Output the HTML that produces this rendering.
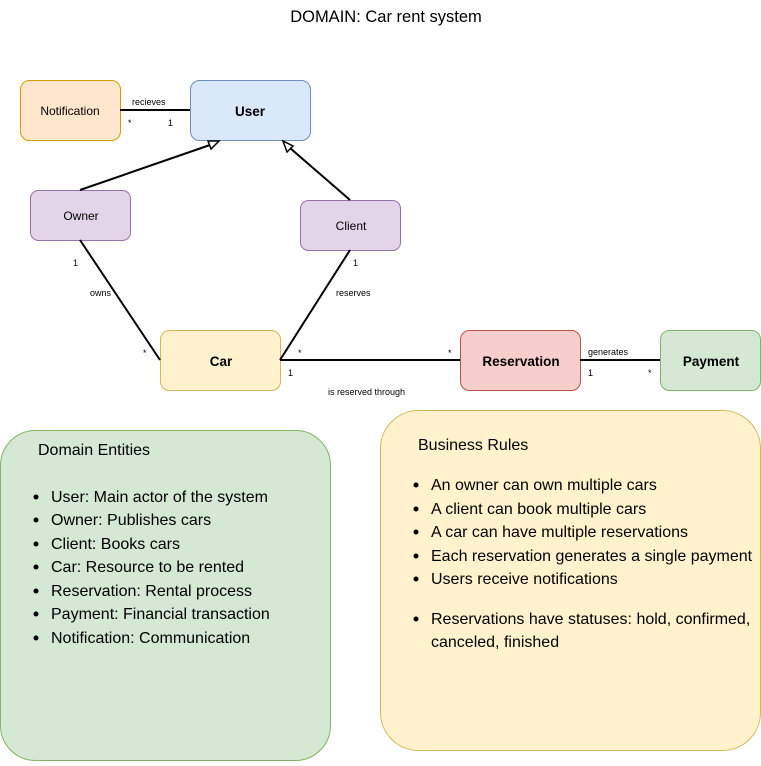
<!DOCTYPE html>
<html><head><meta charset="utf-8"><style>
body{margin:0;background:#fff;width:761px;height:761px;overflow:hidden;font-family:"Liberation Sans",Helvetica,Arial,sans-serif}
</style></head><body>
<svg width="761" height="761" viewBox="0 0 761 761" xmlns="http://www.w3.org/2000/svg" font-family="Liberation Sans, Arial, sans-serif">
<rect width="761" height="761" fill="#fff"/>
<text x="386" y="22" text-anchor="middle" font-size="16.5">DOMAIN: Car rent system</text>
<!-- boxes -->
<rect x="20.5" y="80.5" width="100" height="60" rx="9" fill="#ffe6cc" stroke="#d79b00"/>
<text x="70" y="115" text-anchor="middle" font-size="12">Notification</text>
<rect x="190.5" y="80.5" width="120" height="60" rx="9" fill="#dae8fc" stroke="#6c8ebf"/>
<text x="250" y="116" text-anchor="middle" font-size="13.5" font-weight="bold">User</text>
<rect x="30.5" y="190.5" width="100" height="50" rx="8" fill="#e1d5e7" stroke="#9673a6"/>
<text x="81" y="220" text-anchor="middle" font-size="12">Owner</text>
<rect x="300.5" y="200.5" width="100" height="50" rx="8" fill="#e1d5e7" stroke="#9673a6"/>
<text x="351" y="230" text-anchor="middle" font-size="12">Client</text>
<rect x="160.5" y="330.5" width="120" height="60" rx="9" fill="#fff2cc" stroke="#d6b656"/>
<text x="221" y="366" text-anchor="middle" font-size="13.5" font-weight="bold">Car</text>
<rect x="460.5" y="330.5" width="120" height="60" rx="9" fill="#f8cecc" stroke="#b85450"/>
<text x="521" y="366" text-anchor="middle" font-size="13.5" font-weight="bold">Reservation</text>
<rect x="660.5" y="330.5" width="100" height="60" rx="9" fill="#d5e8d4" stroke="#82b366"/>
<text x="711" y="366" text-anchor="middle" font-size="13.5" font-weight="bold">Payment</text>
<!-- lines -->
<g stroke="#000" stroke-width="2" fill="none">
<line x1="120" y1="110" x2="190" y2="110"/>
<line x1="80" y1="190" x2="210" y2="145"/>
<line x1="350" y1="200" x2="290" y2="148"/>
<line x1="80" y1="240" x2="160" y2="360"/>
<line x1="350" y1="250" x2="280" y2="360"/>
<line x1="280" y1="360" x2="460" y2="360"/>
<line x1="580" y1="360" x2="660" y2="360"/>
</g>
<polygon points="219,141 208,141 211,149" fill="#fff" stroke="#000" stroke-width="1.5"/>
<polygon points="283,141 287,152 293,146" fill="#fff" stroke="#000" stroke-width="1.5"/>
<g font-size="9">
<text x="132" y="105">recieves</text>
<text x="128" y="126">*</text><text x="168" y="126">1</text>
<text x="73" y="266">1</text><text x="90" y="296">owns</text><text x="143" y="356">*</text>
<text x="353" y="266">1</text><text x="336" y="296">reserves</text>
<text x="298" y="356">*</text><text x="288" y="376">1</text>
<text x="328" y="395">is reserved through</text>
<text x="448" y="356">*</text>
<text x="588" y="355">generates</text>
<text x="588" y="376">1</text><text x="648" y="376">*</text>
</g>
<!-- notes -->
<rect x="0.5" y="430.5" width="330" height="330" rx="35" fill="#d5e8d4" stroke="#82b366"/>
<rect x="380.5" y="410.5" width="380" height="340" rx="38" fill="#fff2cc" stroke="#d6b656"/>
<g font-size="16" fill="#000">
<text x="38" y="455">Domain Entities</text>
<g>
<text x="51" y="502">User: Main actor of the system</text>
<text x="51" y="525">Owner: Publishes cars</text>
<text x="51" y="549">Client: Books cars</text>
<text x="51" y="572">Car: Resource to be rented</text>
<text x="51" y="596">Reservation: Rental process</text>
<text x="51" y="619">Payment: Financial transaction</text>
<text x="51" y="643">Notification: Communication</text>
</g>
<text x="418" y="450">Business Rules</text>
<text x="431" y="490">An owner can own multiple cars</text>
<text x="431" y="514">A client can book multiple cars</text>
<text x="431" y="537">A car can have multiple reservations</text>
<text x="431" y="561">Each reservation generates a single payment</text>
<text x="431" y="584">Users receive notifications</text>
<text x="431" y="624">Reservations have statuses: hold, confirmed,</text>
<text x="431" y="647">canceled, finished</text>
</g>
<g fill="#000">
<circle cx="36" cy="497" r="2.5"/><circle cx="36" cy="520" r="2.5"/><circle cx="36" cy="544" r="2.5"/><circle cx="36" cy="567" r="2.5"/><circle cx="36" cy="591" r="2.5"/><circle cx="36" cy="614" r="2.5"/><circle cx="36" cy="638" r="2.5"/>
<circle cx="416" cy="485" r="2.5"/><circle cx="416" cy="509" r="2.5"/><circle cx="416" cy="532" r="2.5"/><circle cx="416" cy="556" r="2.5"/><circle cx="416" cy="579" r="2.5"/><circle cx="416" cy="619" r="2.5"/>
</g>
</svg>
</body></html>
